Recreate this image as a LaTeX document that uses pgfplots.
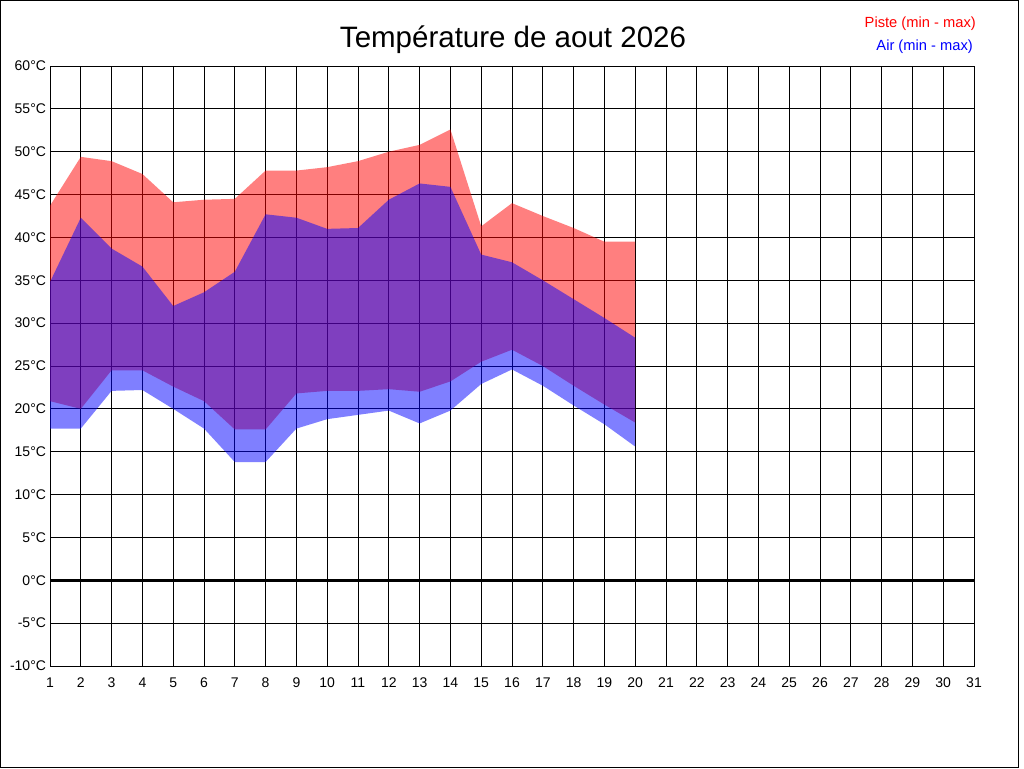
\documentclass[border=0pt]{standalone}
\usepackage{pgfplots}
\pgfplotsset{compat=1.18}
\usepackage{fontspec}
\setmainfont{Liberation Sans}
\begin{document}
\begin{tikzpicture}
\useasboundingbox (0,0) rectangle (1024pt,-768pt);
\fill[white] (0,0) rectangle (1024pt,-768pt);
\draw[black, line width=1pt] (0.5pt,-0.5pt) rectangle (1018.5pt,-767.5pt);
\begin{axis}[
  at={(50pt,-666pt)}, anchor=south west,
  scale only axis, width=924pt, height=600pt,
  xmin=1, xmax=31, ymin=-10, ymax=60,
  xtick={1,...,31}, ytick={-10,-5,...,60},
  grid=major,
  major grid style={black, line width=1pt},
  axis line style={black, line width=1pt},
  major tick length=0pt,
  tick label style={font=\fontsize{14}{15}\selectfont},
  y tick label style={xshift=-0.5pt},
  x tick label style={yshift=-8pt},
  xticklabel={\pgfmathprintnumber[assume math mode=true]{\tick}},
  yticklabel={\pgfmathprintnumber[assume math mode=true]{\tick}°C},
  clip=false,
]
\addplot[draw=none, fill=red, fill opacity=0.5] coordinates {
(1,43.7)(2,49.4)(3,48.9)(4,47.4)(5,44.1)(6,44.4)(7,44.5)(8,47.8)(9,47.8)(10,48.2)(11,48.9)(12,50.0)(13,50.8)(14,52.6)(15,41.3)(16,44.0)(17,42.5)(18,41.1)(19,39.5)(20,39.5)
(20,18.4)(19,20.5)(18,22.7)(17,25.0)(16,26.9)(15,25.5)(14,23.2)(13,22.0)(12,22.3)(11,22.1)(10,22.1)(9,21.8)(8,17.6)(7,17.6)(6,20.9)(5,22.6)(4,24.5)(3,24.5)(2,20.0)(1,20.9)
} -- cycle;
\addplot[draw=none, fill=blue, fill opacity=0.5] coordinates {
(1,34.8)(2,42.3)(3,38.7)(4,36.6)(5,32.0)(6,33.6)(7,36.0)(8,42.7)(9,42.3)(10,41.0)(11,41.1)(12,44.4)(13,46.3)(14,45.9)(15,38.0)(16,37.1)(17,35.0)(18,32.8)(19,30.6)(20,28.3)
(20,15.6)(19,18.2)(18,20.4)(17,22.7)(16,24.6)(15,22.9)(14,19.8)(13,18.3)(12,19.8)(11,19.3)(10,18.8)(9,17.7)(8,13.8)(7,13.8)(6,17.7)(5,20.0)(4,22.2)(3,22.1)(2,17.7)(1,17.7)
} -- cycle;
\draw[black, line width=3pt] (axis cs:1,0) -- (axis cs:31,0);
\end{axis}
\node[anchor=base, font=\fontsize{29.5}{30}\selectfont] at (513pt,-47.5pt) {Température de aout 2026};
\node[anchor=base east, inner sep=0pt, text=red, font=\fontsize{14.7}{15}\selectfont] at (976pt,-27.5pt) {Piste (min - max)};
\node[anchor=base east, inner sep=0pt, text=blue, font=\fontsize{14.7}{15}\selectfont] at (973pt,-50.5pt) {Air (min - max)};
\end{tikzpicture}
\end{document}
